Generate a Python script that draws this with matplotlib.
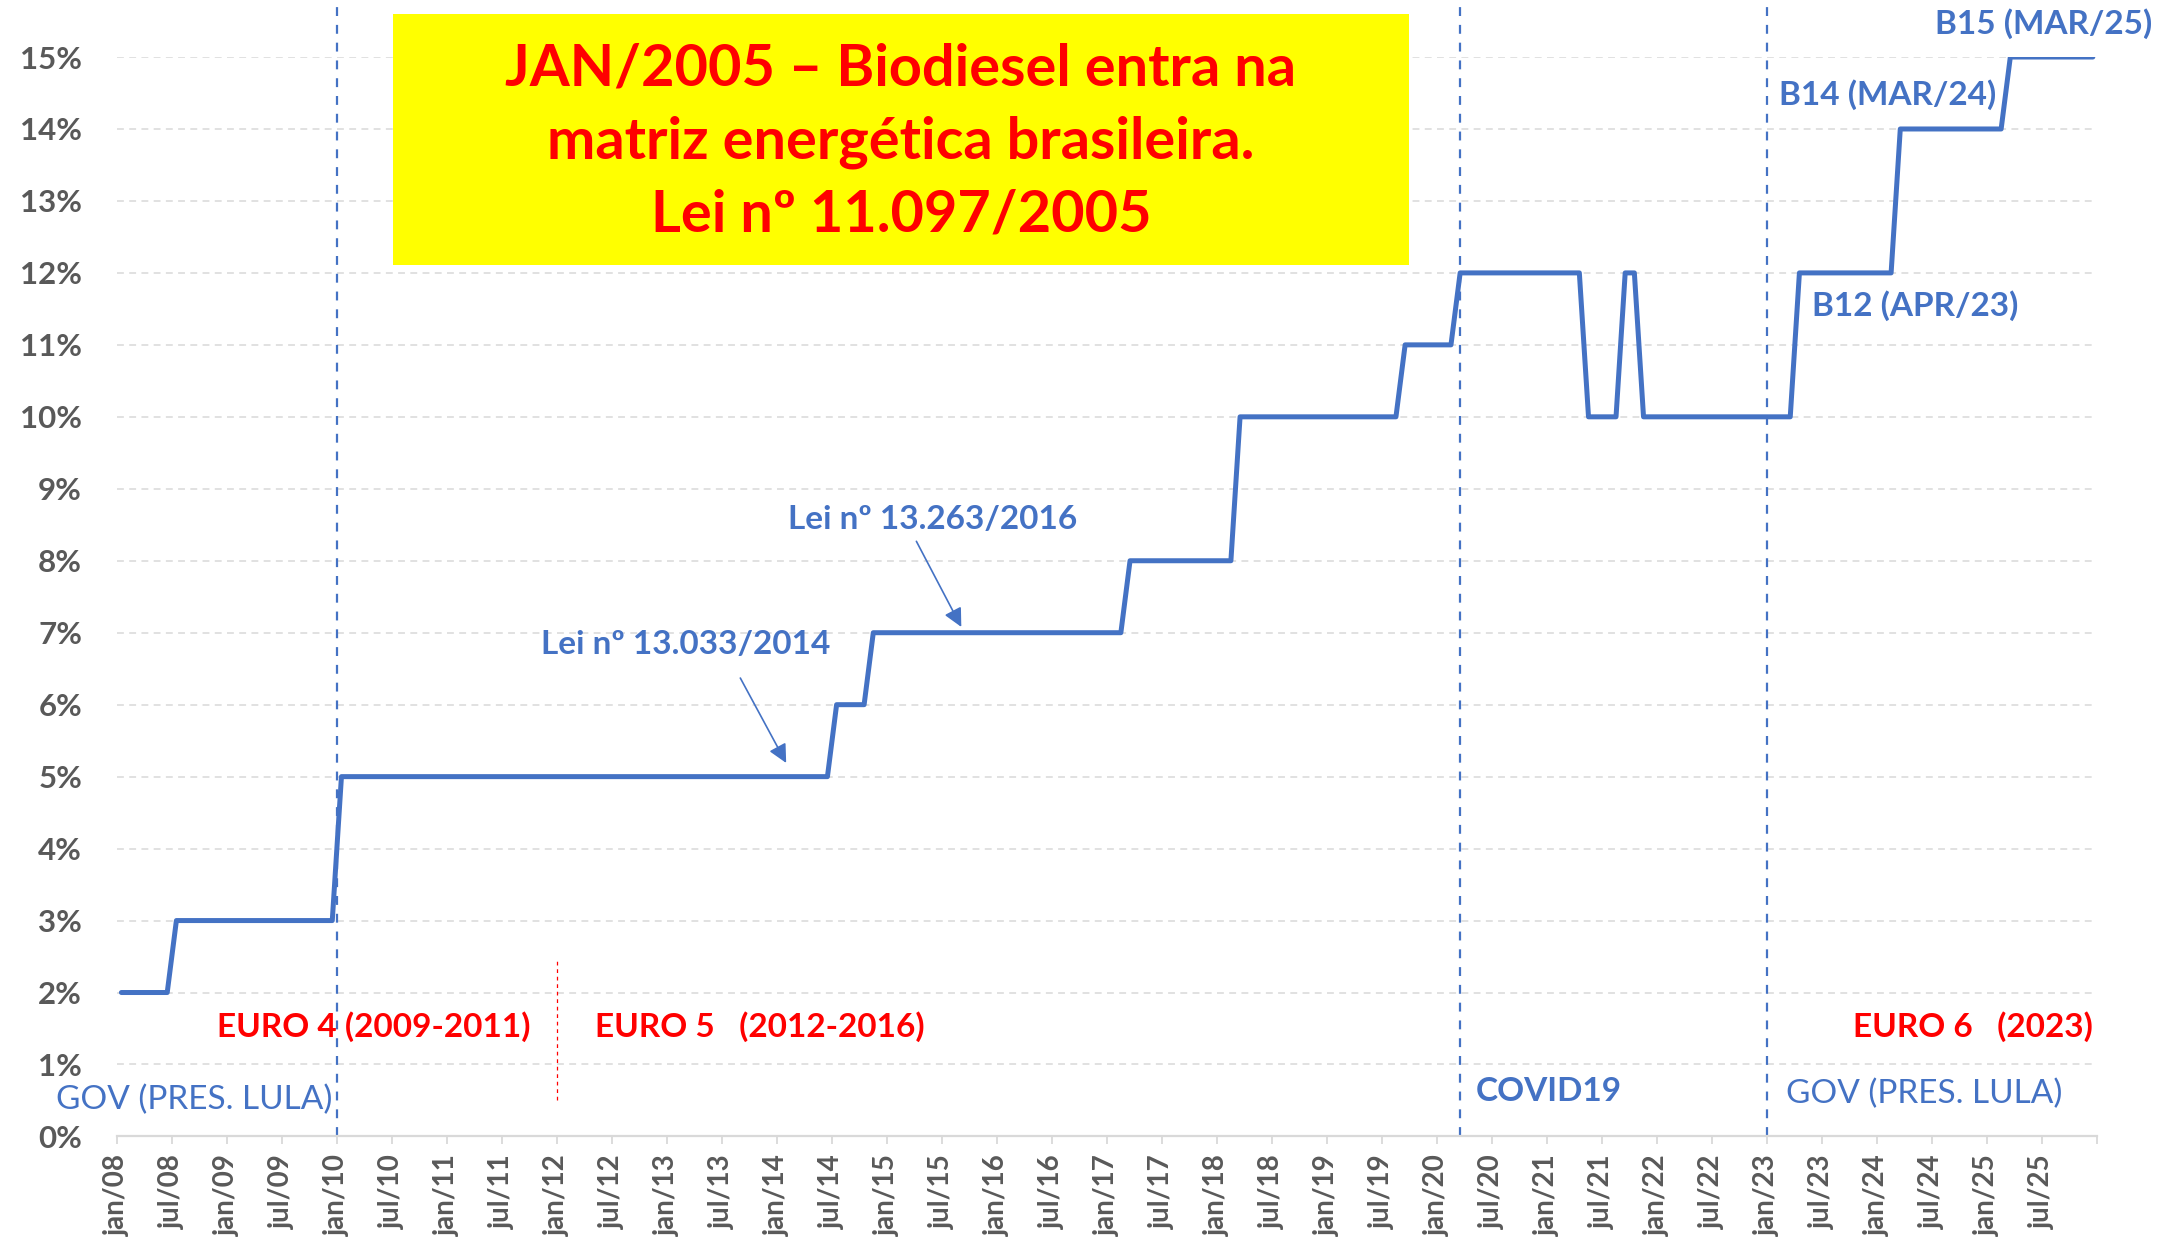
###############
## Libraries ##
###############

import numpy  as np
import pandas as pd
import matplotlib as mpl
mpl.use("Agg")
import matplotlib.pyplot as plt
import matplotlib.ticker as mticker
from matplotlib.patches import Rectangle


##########
## Data ##
##########

## Month where each blend mandate starts (B2, B3, B5, ...) and its value (%)
start_months = [ "2008-01" , "2008-07" , "2010-01" , "2014-07" , "2014-11" , "2017-03" , "2018-03" ,
                 "2019-09" , "2020-03" , "2021-05" , "2021-09" , "2021-11" , "2023-04" , "2024-03" , "2025-03" ]
blend_pct    = [ 2 , 3 , 5 , 6 , 7 , 8 , 10 , 11 , 12 , 10 , 12 , 10 , 12 , 14 , 15 ]
last_month   = "2025-12"

tick_labels  = [ "{}/{:02d}".format(m,y) for y in range(8,26) for m in ("jan","jul") ]
y_ticks      = list(range(0,16))

title_lines  = [ "JAN/2005 – Biodiesel entra na" , "matriz energética brasileira." , "Lei nº 11.097/2005" ]


####################
## Paramètres mpl ##
####################

mpl.rcParams['font.family'] = [ "Lato" , "DejaVu Sans" ]

BLUE  = "#4472C4"
RED   = "#FF0000"
GRAY  = "#595959"
LGRAY = "#D9D9D9"


###############
## Fonctions ##
###############

def build_series():##{{{
	months = pd.date_range( start_months[0] , last_month , freq = "MS" )
	starts = pd.to_datetime(start_months)
	idx    = np.searchsorted( starts.values , months.values , side = "right" ) - 1
	values = np.array(blend_pct)[idx] / 100
	x      = np.arange(months.size) + 0.5   ## points at category centers
	return x,values
##}}}

def plot_biodiesel():##{{{
	x,values = build_series()
	nmonth   = x.size
	
	fig = plt.figure( figsize = (21.83,12.45) , dpi = 100 )
	ax  = fig.add_axes( [0.0535,0.0872,0.9608-0.0535,0.9542-0.0872] )
	
	## grid and spines
	ax.set_xlim( 0 , nmonth )
	ax.set_ylim( 0 , 0.15 )
	for s in ["top","right","left"]:
		ax.spines[s].set_visible(False)
	ax.spines["bottom"].set_color(LGRAY)
	ax.spines["bottom"].set_linewidth(1.6)
	ax.set_yticks( [v/100 for v in y_ticks] )
	ax.yaxis.set_major_formatter( mticker.FuncFormatter( lambda v,p : "{:.0f}%".format(v*100) ) )
	ax.yaxis.grid( True , color = LGRAY , linewidth = 1.1 , linestyle = (0,(4.5,3.5)) )
	ax.set_axisbelow(True)
	ax.tick_params( axis = "y" , length = 0 , pad = 25 , labelsize = 22.5 , labelcolor = GRAY )
	for t in ax.get_yticklabels():
		t.set_fontweight("bold")
	
	ticks = np.arange( 0 , nmonth + 1 , 6 )
	ax.set_xticks(ticks)
	ax.set_xticklabels( tick_labels + [""] * (ticks.size - len(tick_labels)) , rotation = 90 ,
	                    fontsize = 20 , fontweight = "bold" , color = GRAY , va = "top" , ha = "center" )
	ax.tick_params( axis = "x" , length = 6 , width = 1.3 , color = LGRAY , pad = 7 )
	
	## vertical markers
	for xv in [24,146.5,180]:
		ax.axvline( xv , ymin = 0 , ymax = 1.05 , color = BLUE , linewidth = 1.6 , linestyle = (0,(4,4)) , clip_on = False , zorder = 2 )
	ax.plot( [48,48] , [0.0051,0.0245] , color = RED , linewidth = 0.9 , linestyle = (0,(3,3)) , zorder = 2 )
	
	## the series
	ax.plot( x , values , color = BLUE , linewidth = 3.6 , solid_joinstyle = "round" , solid_capstyle = "round" , zorder = 3 )
	
	## title box
	fig.patches.append( Rectangle( (0.1798,0.7875) , 0.4656 , 0.2013 , transform = fig.transFigure ,
	                               facecolor = "#FFFF00" , edgecolor = "none" , zorder = 5 ) )
	fig.text( 0.4127 , 0.886 , "\n".join(title_lines) , ha = "center" , va = "center" , color = RED ,
	          fontsize = 41.5 , fontweight = "bold" , linespacing = 1.45 , zorder = 6 )
	
	## annotations
	kw = dict( fontsize = 24 , fontweight = "bold" , clip_on = False , zorder = 6 )
	ax.text( 89.0  , 0.0857 , "Lei nº 13.263/2016" , color = BLUE , ha = "center" , va = "center" , **kw )
	ax.text( 62.0  , 0.0684 , "Lei nº 13.033/2014" , color = BLUE , ha = "center" , va = "center" , **kw )
	ax.annotate( "" , xy = (92.1,0.0708) , xytext = (87.2,0.0827) ,
	             arrowprops = dict( arrowstyle = "-|>" , color = BLUE , lw = 1.2 , mutation_scale = 28 , shrinkA = 0 , shrinkB = 0 ) )
	ax.annotate( "" , xy = (73.0,0.0519) , xytext = (68.0,0.0637) ,
	             arrowprops = dict( arrowstyle = "-|>" , color = BLUE , lw = 1.2 , mutation_scale = 28 , shrinkA = 0 , shrinkB = 0 ) )
	
	ax.text( 28.0  , 0.0152 , "EURO 4 (2009-2011)"   , color = RED , ha = "center" , va = "center" , **kw )
	ax.text( 52.1  , 0.0152 , "EURO 5   (2012-2016)" , color = RED , ha = "left"   , va = "center" , **kw )
	ax.text( 215.5 , 0.0152 , "EURO 6   (2023)"      , color = RED , ha = "right"  , va = "center" , **kw )
	
	ax.text( -6.65 , 0.0051 , "GOV (PRES. LULA)" , color = BLUE , ha = "left" , va = "center" , fontsize = 24 , clip_on = False )
	ax.text( 182.0 , 0.0059 , "GOV (PRES. LULA)" , color = BLUE , ha = "left" , va = "center" , fontsize = 24 , clip_on = False )
	ax.text( 148.2 , 0.0063 , "COVID19" , color = BLUE , ha = "left" , va = "center" , **kw )
	
	ax.text( 184.9 , 0.1155 , "B12 (APR/23)" , color = BLUE , ha = "left" , va = "center" , **kw )
	ax.text( 181.3 , 0.1448 , "B14 (MAR/24)" , color = BLUE , ha = "left" , va = "center" , **kw )
	ax.text( 198.3 , 0.1546 , "B15 (MAR/25)" , color = BLUE , ha = "left" , va = "center" , **kw )
	
	fig.savefig( "out.png" , dpi = 100 , facecolor = "white" )
	plt.close(fig)
##}}}


##########
## main ##
##########

if __name__ == "__main__":
	plot_biodiesel()
